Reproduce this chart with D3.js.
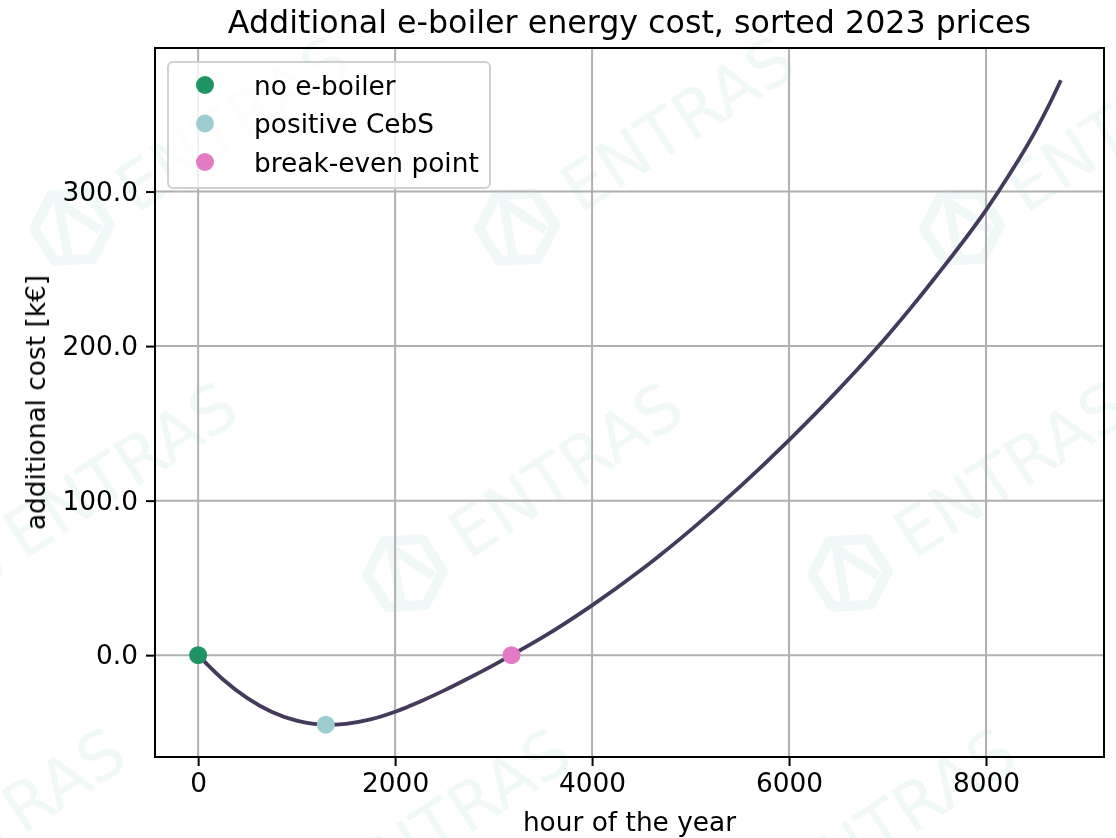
<!doctype html>
<html lang="en">
<head>
<meta charset="utf-8">
<title>Additional e-boiler energy cost</title>
<script src="https://cdn.jsdelivr.net/npm/d3@7"></script>
<style>
  body { margin: 0; background: #fff; }
  text { font-family: "DejaVu Sans", sans-serif; }
</style>
</head>
<body>
<script>
// curve: hour of the year -> additional cost [k€]
var hours = [0, 250, 500, 750, 1000, 1296, 1500, 1750, 2000, 2250, 2500, 2750, 3000, 3182, 3500, 4000, 4500, 5000, 5500, 6000, 6500, 7000, 7500, 8000, 8250, 8500, 8650, 8760];
var costs = [0, -15.6, -27.8, -36.8, -42.4, -45, -44.4, -41.6, -36.6, -30.1, -22.8, -14.8, -6.4, 0, 11.6, 32.2, 55.2, 80.9, 108.9, 139.2, 171.7, 206.7, 245.7, 288, 312.3, 339, 357.3, 372];

var pointNames = ["no e-boiler", "positive CebS", "break-even point"];
var pointHours = [0, 1296, 3182];
var pointCosts = [0, -45, 0];
var pointColors = ["#1e9463", "#9ecdd1", "#e27ac4"];

var xTicks = [0, 2000, 4000, 6000, 8000];
var yTicks = [0, 100, 200, 300];

var W = 1116, H = 838;
var mLeft = 155, mRight = 1104, mTop = 48, mBottom = 757;

var svg = d3.select("body").append("svg")
    .attr("width", W).attr("height", H);

// faint ENTRAS watermark, tiled
var wm = svg.append("g").attr("fill", "#2a9d8f").attr("stroke", "#2a9d8f").attr("opacity", 0.07);
var rowStart = [184, 72, -40, 293];
var tiles = [];
[-119, 227, 573, 919].forEach(function(cy, row){
    for (var k = -1; k < 4; k++) tiles.push([rowStart[row] + 445 * k, cy]);
});
tiles.forEach(function(t){
    var g = wm.append("g").attr("transform", "translate(" + t[0] + "," + t[1] + ") rotate(-33)");
    var hex = d3.range(6).map(function(i){
        var a = Math.PI / 3 * i + Math.PI / 6;
        return [38 * Math.cos(a), 38 * Math.sin(a)];
    });
    g.append("path").attr("d", "M" + hex.join("L") + "Z")
        .attr("fill", "none").attr("stroke-width", 10).attr("stroke-linejoin", "round");
    g.append("path").attr("d", "M-20,24L2,-28L22,18")
        .attr("fill", "none").attr("stroke-width", 9);
    g.append("text").attr("x", 60).attr("y", 24)
        .attr("stroke", "none").style("font-size", "66px")
        .text("ENTRAS");
});

var x = d3.scaleLinear().domain([-438, 9198]).range([mLeft, mRight]);
var y = d3.scaleLinear().domain([-65.9, 392.9]).range([mBottom, mTop]);

// grid
var grid = svg.append("g").attr("stroke", "#b0b0b0").attr("stroke-width", 2);
grid.selectAll(".gx").data(xTicks).enter().append("line")
    .attr("x1", function(d){return x(d);}).attr("x2", function(d){return x(d);})
    .attr("y1", mTop).attr("y2", mBottom);
grid.selectAll(".gy").data(yTicks).enter().append("line")
    .attr("x1", mLeft).attr("x2", mRight)
    .attr("y1", function(d){return y(d);}).attr("y2", function(d){return y(d);});

// curve
var line = d3.line()
    .x(function(d, i){return x(hours[i]);})
    .y(function(d){return y(d);})
    .curve(d3.curveMonotoneX);
svg.append("path").attr("d", line(costs))
    .attr("fill", "none").attr("stroke", "#433a5c").attr("stroke-width", 3.8);

// markers
svg.selectAll(".pt").data(pointNames).enter().append("circle")
    .attr("cx", function(d, i){return x(pointHours[i]);})
    .attr("cy", function(d, i){return y(pointCosts[i]);})
    .attr("r", 9)
    .attr("fill", function(d, i){return pointColors[i];});

// axes
var xAxis = d3.axisBottom(x).tickValues(xTicks).tickSize(9).tickPadding(7).tickFormat(d3.format("d"));
var yAxis = d3.axisLeft(y).tickValues(yTicks).tickSize(9).tickPadding(8).tickFormat(d3.format(".1f"));
var gx = svg.append("g").attr("transform", "translate(0," + mBottom + ")").call(xAxis);
var gy = svg.append("g").attr("transform", "translate(" + mLeft + ",0)").call(yAxis);
[gx, gy].forEach(function(g){
    g.select(".domain").remove();
    g.selectAll("line").attr("stroke", "#000").attr("stroke-width", 2);
    g.selectAll("text").attr("fill", "#000").style("font-size", "26.4px")
        .style("font-family", "DejaVu Sans, sans-serif");
});

svg.append("rect").attr("x", mLeft).attr("y", mTop)
    .attr("width", mRight - mLeft).attr("height", mBottom - mTop)
    .attr("fill", "none").attr("stroke", "#000").attr("stroke-width", 2);

// labels
svg.append("text").attr("x", (mLeft + mRight) / 2).attr("y", 33)
    .attr("text-anchor", "middle").style("font-size", "31.7px")
    .text("Additional e-boiler energy cost, sorted 2023 prices");
svg.append("text").attr("x", (mLeft + mRight) / 2).attr("y", 831)
    .attr("text-anchor", "middle").style("font-size", "26.4px")
    .text("hour of the year");
svg.append("text").attr("transform", "translate(45," + (mTop + mBottom) / 2 + ") rotate(-90)")
    .attr("text-anchor", "middle").style("font-size", "26.4px")
    .text("additional cost [k€]");

// legend
var leg = svg.append("g");
leg.append("rect").attr("x", 168).attr("y", 62).attr("width", 322).attr("height", 126)
    .attr("rx", 5).attr("fill", "#fff").attr("fill-opacity", 0.8)
    .attr("stroke", "#d0d0d0").attr("stroke-width", 2);
var items = leg.selectAll(".item").data(pointNames).enter().append("g")
    .attr("transform", function(d, i){return "translate(0," + (85 + i * 38.5) + ")";});
items.append("circle").attr("cx", 205).attr("cy", 0).attr("r", 9)
    .attr("fill", function(d, i){return pointColors[i];});
items.append("text").attr("x", 254).attr("y", 9.5).style("font-size", "26.4px")
    .text(function(d){return d;});
</script>
</body>
</html>
